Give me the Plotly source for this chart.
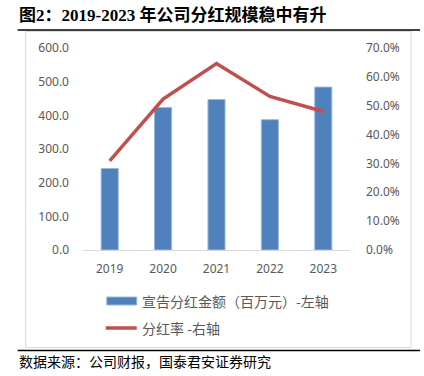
import plotly.graph_objects as go

years = ["2019", "2020", "2021", "2022", "2023"]
dividend = [242, 423, 447, 387, 484]          # 宣告分红金额（百万元）
payout = [0.309, 0.523, 0.646, 0.532, 0.480]  # 分红率
left_ticks = [0, 100, 200, 300, 400, 500, 600]
right_ticks = [0, 0.1, 0.2, 0.3, 0.4, 0.5, 0.6, 0.7]

W, H = 424, 376
L, R, T, B = 83.3, 350.0, 48.0, 250.0

def px(x):
    return (x - L) / (R - L)

def py(y):
    return (B - y) / (B - T)

BAR_COLOR = "#4F81BD"
LINE_COLOR = "#C0504D"
TICK_FONT = dict(family="Noto Sans, Open Sans, sans-serif", size=12, color="#595959")
CJK = "Noto Sans CJK SC, sans-serif"
TITLE_FONT = "Liberation Serif, Noto Sans CJK SC, serif"

fig = go.Figure()
fig.add_trace(go.Bar(
    x=years, y=dividend, width=0.32, marker=dict(color=BAR_COLOR, line=dict(color="#9DB6DA", width=1)),
    name="宣告分红金额（百万元）-左轴", yaxis="y",
))
fig.add_trace(go.Scatter(
    x=years, y=payout, mode="lines", line=dict(color=LINE_COLOR, width=3.5),
    name="分红率 -右轴", yaxis="y2",
))

shapes = [
    # chart frame
    dict(type="rect", xref="paper", yref="paper", x0=px(26), x1=px(411), y0=py(31.5), y1=py(347.5),
         line=dict(color="#D9D9D9", width=1), fillcolor="rgba(0,0,0,0)", layer="below"),
    # title rule
    dict(type="line", xref="paper", yref="paper", x0=px(18), x1=px(420), y0=py(30), y1=py(30),
         line=dict(color="#404040", width=2)),
    # source rule
    dict(type="line", xref="paper", yref="paper", x0=px(18), x1=px(420), y0=py(350.5), y1=py(350.5),
         line=dict(color="#000000", width=1.3)),
    # legend symbols
    dict(type="rect", xref="paper", yref="paper", x0=px(107), x1=px(137), y0=py(297), y1=py(305),
         line=dict(color="#9DB6DA", width=1), fillcolor=BAR_COLOR),
    dict(type="line", xref="paper", yref="paper", x0=px(106), x1=px(137), y0=py(328), y1=py(328),
         line=dict(color=LINE_COLOR, width=3.5)),
]

annotations = [
    dict(text="<b>图2：2019-2023 年公司分红规模稳中有升</b>", xref="paper", yref="paper",
         x=px(17), y=py(15), xanchor="left", yanchor="middle", showarrow=False,
         font=dict(family=TITLE_FONT, size=17, color="#000000")),
    dict(text="宣告分红金额（百万元）-左轴", xref="paper", yref="paper",
         x=px(140), y=py(301), xanchor="left", yanchor="middle", showarrow=False,
         font=dict(family=CJK, size=14, color="#595959")),
    dict(text="分红率 -右轴", xref="paper", yref="paper",
         x=px(140), y=py(328), xanchor="left", yanchor="middle", showarrow=False,
         font=dict(family=CJK, size=14, color="#595959")),
    dict(text="数据来源：公司财报，国泰君安证券研究", xref="paper", yref="paper",
         x=px(17), y=py(361), xanchor="left", yanchor="middle", showarrow=False,
         font=dict(family=CJK, size=14, color="#000000")),
]

fig.update_layout(
    width=W, height=H,
    margin=dict(l=L, r=W - R, t=T, b=H - B, pad=0),
    paper_bgcolor="white", plot_bgcolor="white",
    showlegend=False,
    bargap=0.68,
    xaxis=dict(type="category", showgrid=False, showline=True, linecolor="#D9D9D9", linewidth=1,
               ticks="", tickfont=TICK_FONT, ticklabelstandoff=8, zeroline=False, fixedrange=True),
    yaxis=dict(range=[0, 600], tickvals=left_ticks, tickformat=".1f", showgrid=False, zeroline=False,
               showline=False, ticks="", tickfont=TICK_FONT, ticklabelstandoff=13),
    yaxis2=dict(range=[0, 0.7], tickvals=right_ticks, tickformat=".1%", overlaying="y", side="right",
                showgrid=False, zeroline=False, showline=False, ticks="", tickfont=TICK_FONT,
                ticklabelstandoff=15),
    shapes=shapes,
    annotations=annotations,
)

fig.write_html("out.html", config={"displayModeBar": False},
               post_script="document.body.style.margin='0';document.body.style.overflow='hidden';")
